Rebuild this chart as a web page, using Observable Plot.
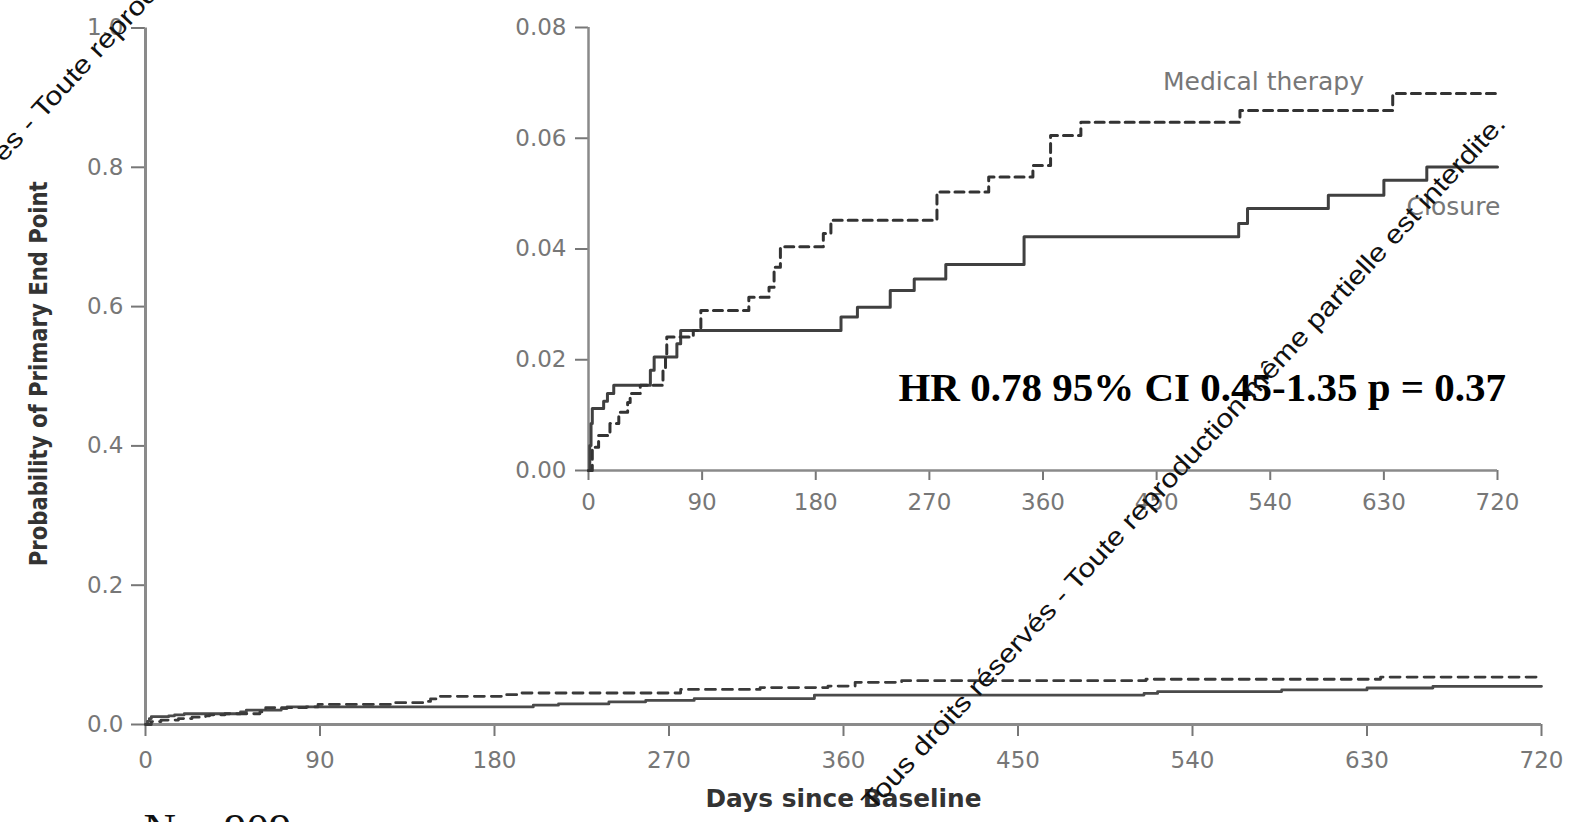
<!DOCTYPE html>
<html><head><meta charset="utf-8">
<script src="https://cdn.jsdelivr.net/npm/d3@7"></script>
<script src="https://cdn.jsdelivr.net/npm/@observablehq/plot@0.6"></script>
<style>
html,body{margin:0;padding:0;background:#fff;overflow:hidden;}
#wrap{position:relative;width:1573px;height:822px;overflow:hidden;}
#wrap > svg{position:absolute;left:0;top:0;}
#wrap [aria-label^="x-axis"] line, #wrap [aria-label^="y-axis"] line,
#wrap [aria-label^="x-axis"] path, #wrap [aria-label^="y-axis"] path{stroke-width:2;}
</style></head><body><div id="wrap"></div>
<script>
// ---- data ----
const xTicks = [0, 90, 180, 270, 360, 450, 540, 630, 720];
const mainYTicks = [0, 0.2, 0.4, 0.6, 0.8, 1.0];
const insetYTicks = [0, 0.02, 0.04, 0.06, 0.08];

const closureDays = [0, 1, 2, 3, 12, 15, 20, 49, 52, 70, 73, 200, 213, 239, 258, 283, 345, 515, 522, 586, 630, 664, 720];
const closureRisk = [0, 0.0045, 0.0085, 0.0112, 0.0125, 0.0139, 0.0154, 0.0181, 0.0205, 0.0229, 0.0253, 0.0277, 0.0295, 0.0325, 0.0346, 0.0372, 0.0422, 0.0446, 0.0473, 0.0497, 0.0524, 0.0548, 0.0548];

const medicalDays = [0, 3, 8, 17, 24, 31, 33, 41, 59, 61, 62, 83, 89, 127, 143, 147, 152, 186, 192, 276, 317, 352, 366, 390, 516, 637, 720];
const medicalRisk = [0, 0.0042, 0.0063, 0.0085, 0.0105, 0.0123, 0.0139, 0.0154, 0.0181, 0.0211, 0.0241, 0.0253, 0.0289, 0.0313, 0.0331, 0.0367, 0.0404, 0.0428, 0.0452, 0.0503, 0.0530, 0.0551, 0.0605, 0.0629, 0.0650, 0.0681, 0.0681];

const yTitle = "Probability of Primary End Point";
const xTitle = "Days since Baseline";
const nLabel = "N = 909";
const hrLabel = "HR 0.78 95% CI 0.45-1.35 p = 0.37";
const seriesLabels = ["Medical therapy", "Closure"];
const watermark = "Tous droits réservés - Toute reproduction même partielle est interdite.";

const closure = closureDays.map((d, i) => ({day: d, risk: closureRisk[i]}));
const medical = medicalDays.map((d, i) => ({day: d, risk: medicalRisk[i]}));

const axisStyle = {background: "transparent", color: "#777", fontFamily: "DejaVu Sans", fontSize: "23px", overflow: "visible"};

// ---- main plot ----
const main = Plot.plot({
  width: 1573, height: 822,
  marginLeft: 145, marginRight: 32, marginTop: 27.5, marginBottom: 98,
  style: axisStyle,
  x: {domain: [0, 720], ticks: xTicks, tickSize: 12, tickPadding: 15, label: null},
  y: {domain: [0, 1], ticks: mainYTicks, tickSize: 14, tickPadding: 8, tickFormat: d3.format(".1f"), label: null},
  marks: [
    Plot.ruleX([0], {stroke: "#8a8a8a", strokeWidth: 3}),
    Plot.ruleY([0], {stroke: "#8a8a8a", strokeWidth: 3}),
    Plot.line(closure, {x: "day", y: "risk", curve: "step-after", stroke: "#4a4a4a", strokeWidth: 2.8}),
    Plot.line(medical, {x: "day", y: "risk", curve: "step-after", stroke: "#3a3a3a", strokeWidth: 2.8, strokeDasharray: "10,7"}),
    Plot.text([yTitle], {text: d => d, frameAnchor: "left", textAnchor: "start", dx: -107, dy: 190, rotate: -90, fill: "#333", fontWeight: "bold", fontSize: 25, fontFamily: "DejaVu Sans"}),
    Plot.text([xTitle], {text: d => d, frameAnchor: "bottom-left", textAnchor: "start", dx: 560, dy: 82, fill: "#333", fontWeight: "bold", fontSize: 25, fontFamily: "DejaVu Sans"}),
    Plot.text([nLabel], {text: d => d, frameAnchor: "bottom-left", textAnchor: "start", lineAnchor: "bottom", dx: -2, dy: 119, fill: "#111", fontSize: 45, fontFamily: "Liberation Serif"})
  ]
});

// ---- inset plot ----
const inset = Plot.plot({
  width: 1573, height: 822,
  marginLeft: 588, marginRight: 76, marginTop: 27, marginBottom: 352,
  style: axisStyle,
  x: {domain: [0, 720], ticks: xTicks, tickSize: 10, tickPadding: 13, label: null},
  y: {domain: [0, 0.08], ticks: insetYTicks, tickSize: 13, tickPadding: 9, tickFormat: d3.format(".2f"), label: null},
  marks: [
    Plot.ruleX([0], {stroke: "#8a8a8a", strokeWidth: 2.5}),
    Plot.ruleY([0], {stroke: "#8a8a8a", strokeWidth: 2.5}),
    Plot.line(closure, {x: "day", y: "risk", curve: "step-after", stroke: "#404040", strokeWidth: 3}),
    Plot.line(medical, {x: "day", y: "risk", curve: "step-after", stroke: "#333", strokeWidth: 3, strokeDasharray: "9,6"}),
    Plot.text([{day: 455, risk: 0.0687, label: seriesLabels[0]}], {x: "day", y: "risk", text: "label", textAnchor: "start", lineAnchor: "bottom", fill: "#777", fontSize: 25, fontFamily: "DejaVu Sans"}),
    Plot.text([{day: 648, risk: 0.0461, label: seriesLabels[1]}], {x: "day", y: "risk", text: "label", textAnchor: "start", lineAnchor: "bottom", fill: "#777", fontSize: 25, fontFamily: "DejaVu Sans"}),
    Plot.text([{day: 245.5, risk: 0.0125, label: hrLabel}], {x: "day", y: "risk", text: "label", textAnchor: "start", lineAnchor: "bottom", fill: "#000", fontSize: 41, fontWeight: "bold", fontFamily: "Liberation Serif"})
  ]
});

const wrap = document.getElementById("wrap");
wrap.appendChild(main);
wrap.appendChild(inset);

// condense the axis titles like the reference
d3.select(main).selectAll("text").filter(function() { return this.textContent === yTitle; })
  .attr("textLength", 385).attr("lengthAdjust", "spacingAndGlyphs");
d3.select(main).selectAll("text").filter(function() { return this.textContent === xTitle; })
  .attr("textLength", 276).attr("lengthAdjust", "spacingAndGlyphs");

// watermark overlay
const ov = d3.select(wrap).append("svg").attr("width", 1573).attr("height", 822);
[[873, 812], [-160, 340]].forEach(([x, y]) => {
  ov.append("text").attr("transform", `translate(${x},${y}) rotate(-47.3)`)
    .attr("font-family", "Liberation Sans").attr("font-size", 26).attr("fill", "#111")
    .attr("textLength", 935).attr("lengthAdjust", "spacingAndGlyphs")
    .text(watermark);
});
</script></body></html>
